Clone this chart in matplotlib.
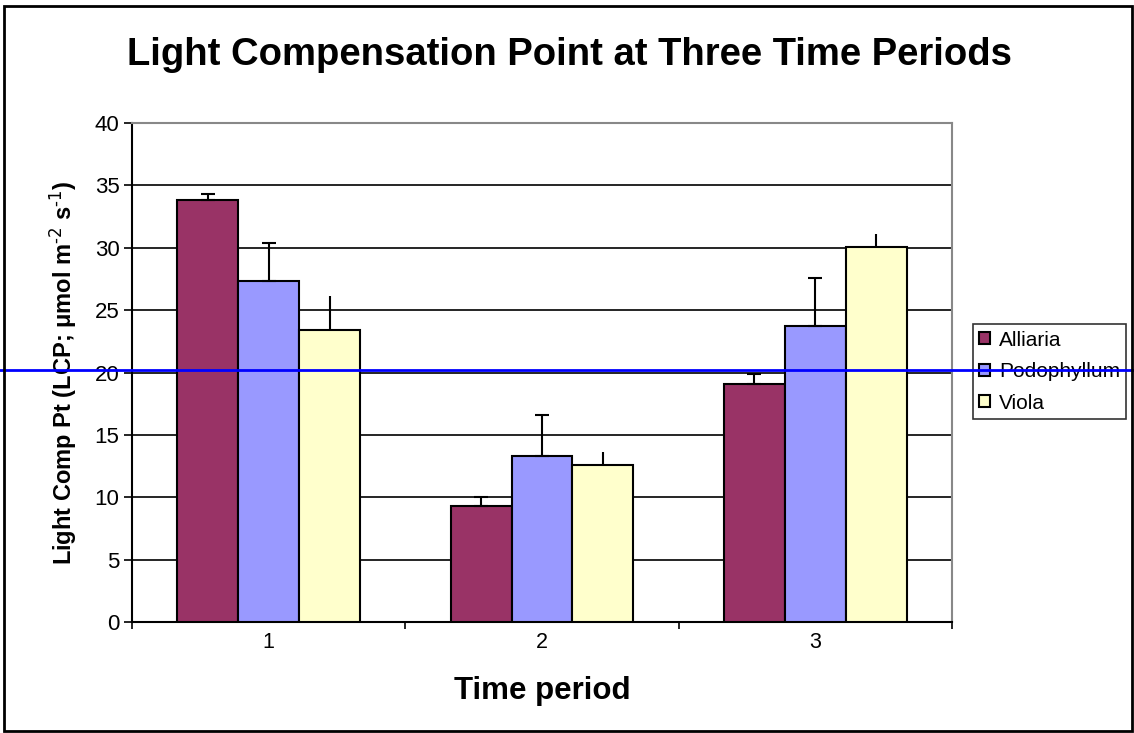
import matplotlib.pyplot as plt
import matplotlib.transforms as mtransforms
import numpy as np
from matplotlib.patches import Rectangle

plt.rcParams['font.family'] = ['Liberation Sans', 'DejaVu Sans']
plt.rcParams['mathtext.default'] = 'regular'

# Data
periods = ['1', '2', '3']
species = ['Alliaria', 'Podophyllum', 'Viola']
alliaria = [33.8, 9.3, 19.1]
podophyllum = [27.3, 13.3, 23.7]
viola = [23.4, 12.6, 30.1]
alliaria_err = [0.5, 0.7, 0.8]
podophyllum_err = [3.1, 3.3, 3.9]
viola_err = [2.7, 1.0, 1.0]
colors = ['#993366', '#9999FF', '#FFFFCC']
ref_line = 20.2

values = [alliaria, podophyllum, viola]
errors = [alliaria_err, podophyllum_err, viola_err]
capsizes = [5, 5, 0]

fig = plt.figure(figsize=(11.34, 7.33), dpi=100)
ax = fig.add_axes([0.1164, 0.1514, 0.7231, 0.6808])

x = np.arange(len(periods))
width = 0.223
for i, (name, vals, errs) in enumerate(zip(species, values, errors)):
    pos = x + (i - 1) * width
    ax.bar(pos, vals, width=width, color=colors[i], edgecolor='black',
           linewidth=1.5, label=name, zorder=3)
    ax.errorbar(pos, vals, yerr=[np.zeros(len(errs)), errs], fmt='none',
                ecolor='black', elinewidth=1.5, capsize=capsizes[i],
                capthick=1.5, zorder=4)

ax.set_xlim(-0.5, 2.5)
ax.set_ylim(0, 40)
ax.set_yticks(np.arange(0, 41, 5))
ax.yaxis.grid(True, color='black', linewidth=1.2, zorder=0)
ax.set_axisbelow(True)

ax.set_xticks(x)
ax.set_xticklabels(periods)
ax.set_xticks(np.arange(-0.5, 2.6, 1), minor=True)
ax.tick_params(axis='x', which='major', length=0, pad=7, labelsize=15.5)
ax.tick_params(axis='x', which='minor', length=5, width=1.2, direction='out')
ax.tick_params(axis='y', length=6, width=1.2, direction='out', labelsize=16, pad=3)

for side in ['left', 'bottom']:
    ax.spines[side].set_color('black')
    ax.spines[side].set_linewidth(1.5)
for side in ['top', 'right']:
    ax.spines[side].set_color('#888888')
    ax.spines[side].set_linewidth(1.5)

ax.set_xlabel('Time period', fontsize=22.5, fontweight='bold', labelpad=17)
ax.set_ylabel(r'Light Comp Pt (LCP; μmol m$^{\text{-2}}$ s$^{\text{-1}}$)', fontsize=17,
              fontweight='bold', labelpad=11)

fig.suptitle('Light Compensation Point at Three Time Periods', fontsize=27.5,
             fontweight='bold', x=0.502, y=0.95)

leg = ax.legend(loc='center left', bbox_to_anchor=(0.858, 0.493),
                bbox_transform=fig.transFigure, fontsize=15, frameon=True,
                fancybox=False, handlelength=0.5, handleheight=0.5,
                handletextpad=0.45, labelspacing=0.6, borderpad=0.3,
                borderaxespad=0)
leg.get_frame().set_edgecolor('black')
leg.get_frame().set_linewidth(1.2)

# outer chart border
fig.add_artist(Rectangle((0.0035, 0.003), 0.995, 0.989, transform=fig.transFigure,
                         fill=False, edgecolor='black', linewidth=2))

# blue reference line across the whole figure
trans = mtransforms.blended_transform_factory(fig.transFigure, ax.transData)
ax.plot([0, 1], [ref_line, ref_line], transform=trans, color='#0000FF',
        linewidth=2, clip_on=False, zorder=10)

fig.savefig('out.png', dpi=100)
